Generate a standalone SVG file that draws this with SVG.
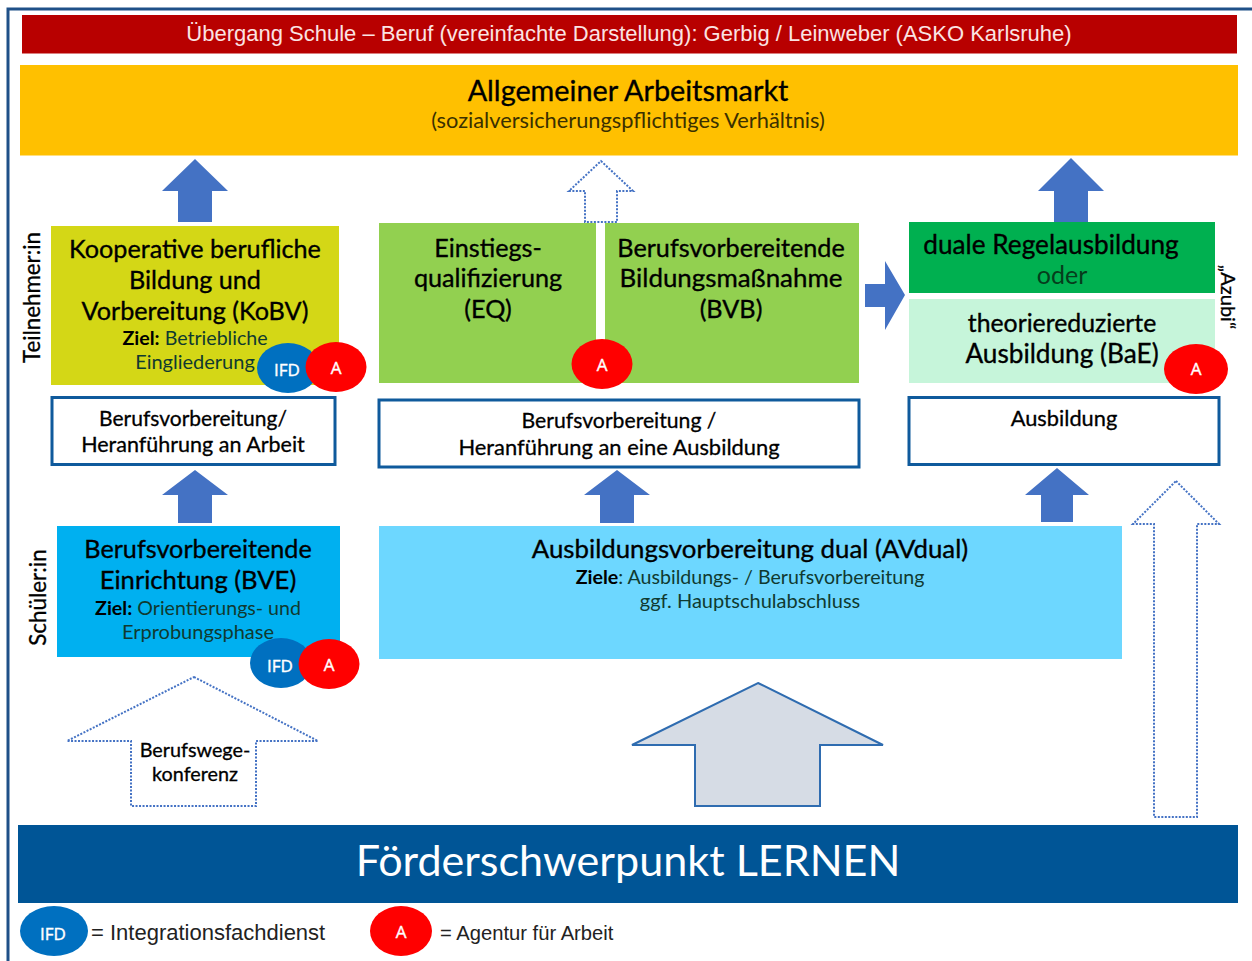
<svg xmlns="http://www.w3.org/2000/svg" width="1252" height="961" viewBox="0 0 1252 961">
<style>
text{font-family:Lato,"Liberation Sans",sans-serif;text-anchor:middle;fill:#000}
.h{font-size:25.200px;stroke:#000;stroke-width:.35px}
.m{font-size:21.500px;stroke:#000;stroke-width:.3px}
.s{font-size:19.600px;fill:#103a30}
.b{font-weight:700}
.ar{font-family:"Liberation Sans",sans-serif}
.solid{fill:#4472c4}
.dot{fill:#fff;stroke:#4472c4;stroke-width:2;stroke-dasharray:2 1.5}
.box{fill:#fff;stroke:#0f5a9c;stroke-width:3}
.ifd{fill:#0070c0}.a{fill:#f00}
.ct{fill:#fff;font-family:"Open Sans",sans-serif;font-size:17px;stroke:#fff;stroke-width:.4px}
</style>
<rect width="1252" height="961" fill="#fff"/>
<path d="M1252 9H8V961" fill="none" stroke="#1f5088" stroke-width="3"/>
<g id="title"><rect x="22" y="15" width="1215" height="38.500" fill="#b80000"/><text x="629" y="41" class="ar" style="font-size:22px;fill:#fbe3e3">Übergang Schule – Beruf (vereinfachte Darstellung): Gerbig / Leinweber (ASKO Karlsruhe)</text></g>
<g id="arbeitsmarkt"><rect x="20" y="65" width="1218" height="90.500" fill="#ffc000"/><text x="628" y="100.500" class="h" style="font-size:28.800px">Allgemeiner Arbeitsmarkt</text><text x="628" y="128" style="font-size:21.800px;fill:#3a3000">(sozialversicherungspflichtiges Verhältnis)</text></g>
<g id="connectors">
<path class="solid" d="M195 159L228 191H212V222H178V191H162Z"/>
<path class="dot" d="M601 161L633 191H617V222H585V191H569Z"/>
<path class="solid" d="M1071 158L1104 191H1088V222H1054V191H1038Z"/>
<path class="solid" d="M865 284H885V261L905 295L885 330V307H865Z"/>
<path class="solid" d="M195 470L228 495H212V523H178V495H162Z"/>
<path class="solid" d="M617 470L650 495H634V523H600V495H584Z"/>
<path class="solid" d="M1057 468L1089 495H1073V522H1041V495H1025Z"/>
<path class="dot" d="M194 677L318 741H256V806H131V741H67Z"/>
<path d="M758 683L883 745H820V806H695V745H632Z" fill="#d6dce5" stroke="#2f6cb0" stroke-width="2"/>
<path class="dot" d="M1176 481L1219 524H1197V817H1154V524H1133Z"/>
</g>
<g id="kobv"><rect x="51" y="226" width="288" height="159" fill="#d4d716"/>
<text x="195" y="257.500" class="h">Kooperative berufliche</text><text x="195" y="288.500" class="h">Bildung und</text><text x="195" y="319.500" class="h">Vorbereitung (KoBV)</text>
<text x="195" y="345" class="s"><tspan class="b" style="fill:#000">Ziel:</tspan> Betriebliche</text><text x="195" y="369" class="s" style="font-size:20px">Eingliederung</text></g>
<g id="eq"><rect x="379" y="223" width="217" height="160" fill="#92d050"/><text x="488" y="256.500" class="h">Einstiegs-</text><text x="488" y="287" class="h">qualifizierung</text><text x="488" y="318" class="h">(EQ)</text></g>
<g id="bvb"><rect x="605" y="223" width="254" height="160" fill="#92d050"/><text x="731" y="256.500" class="h">Berufsvorbereitende</text><text x="731" y="287" class="h" style="font-size:25.900px">Bildungsmaßnahme</text><text x="731" y="318" class="h">(BVB)</text></g>
<g id="duale"><rect x="909" y="222" width="306" height="71" fill="#00b050"/><text x="1051" y="254" class="h" style="font-size:26.200px">duale Regelausbildung</text><text x="1062" y="284" style="font-size:25px;fill:#063d1c">oder</text></g>
<g id="bae"><rect x="909" y="299" width="306" height="84" fill="#c6f5da"/><text x="1062" y="331.500" class="h" style="font-size:24.800px">theoriereduzierte</text><text x="1062" y="362.500" class="h" style="font-size:26.200px">Ausbildung (BaE)</text></g>
<g id="box1"><rect class="box" x="52" y="397.500" width="283" height="67"/><text x="193" y="426" class="m" style="font-size:21px">Berufsvorbereitung/</text><text x="193" y="452" class="m">Heranführung an Arbeit</text></g>
<g id="box2"><rect class="box" x="379" y="400" width="480" height="67"/><text x="619" y="428" class="m" style="font-size:21.200px">Berufsvorbereitung /</text><text x="619" y="455" class="m" style="font-size:21.900px">Heranführung an eine Ausbildung</text></g>
<g id="box3"><rect class="box" x="909" y="397.500" width="310" height="67"/><text x="1064" y="426" class="m" style="font-size:21.800px">Ausbildung</text></g>
<g id="bve"><rect x="57" y="526" width="283" height="131" fill="#00b0f0"/><text x="198" y="558" class="h">Berufsvorbereitende</text><text x="198" y="589" class="h" style="font-size:25.600px">Einrichtung (BVE)</text><text x="198" y="615" class="s"><tspan class="b" style="fill:#000">Ziel:</tspan> Orientierungs- und</text><text x="198" y="639" class="s" style="font-size:20px">Erprobungsphase</text></g>
<g id="avdual"><rect x="379" y="526" width="743" height="133" fill="#6dd7ff"/><text x="750" y="558" class="h" style="font-size:25.800px">Ausbildungsvorbereitung dual (AVdual)</text><text x="750" y="584" class="s"><tspan class="b" style="fill:#000">Ziele</tspan>: Ausbildungs- / Berufsvorbereitung</text><text x="750" y="608" class="s" style="font-size:20px">ggf. Hauptschulabschluss</text></g>
<g id="lernen"><rect x="18" y="825" width="1220" height="78" fill="#005596"/><text x="628" y="876" style="font-size:43.100px;fill:#fff">Förderschwerpunkt LERNEN</text></g>
<g id="label-teilnehmer"><text transform="translate(40 297.500) rotate(-90)" style="font-size:22.300px;stroke:#000;stroke-width:.3px">Teilnehmer:in</text></g>
<g id="label-schueler"><text transform="translate(45.500 597.500) rotate(-90)" style="font-size:22.400px;stroke:#000;stroke-width:.3px">Schüler:in</text></g>
<g id="label-azubi"><text transform="translate(1221 297) rotate(90)" style="font-size:20px;stroke:#000;stroke-width:.3px">„Azubi“</text></g>
<g id="berufswege"><text x="195" y="756.500" class="m" style="font-size:19.800px">Berufswege-</text><text x="195" y="780.500" class="m" style="font-size:19.800px">konferenz</text></g>
<g id="badge-kobv"><ellipse class="ifd" cx="288" cy="368" rx="31" ry="25"/><text class="ct" x="287" y="376">IFD</text><ellipse class="a" cx="336" cy="367" rx="30.500" ry="25"/><text class="ct" x="336" y="374">A</text></g>
<g id="badge-eq"><ellipse class="a" cx="602" cy="364" rx="30.500" ry="25"/><text class="ct" x="602" y="371">A</text></g>
<g id="badge-bae"><ellipse class="a" cx="1196" cy="369" rx="32" ry="25"/><text class="ct" x="1196" y="375">A</text></g>
<g id="badge-bve"><ellipse class="ifd" cx="281" cy="663" rx="31" ry="25"/><text class="ct" x="280" y="672">IFD</text><ellipse class="a" cx="329" cy="664" rx="30.500" ry="25"/><text class="ct" x="329" y="671">A</text></g>
<g id="legend-ifd"><ellipse class="ifd" cx="54" cy="931" rx="34" ry="25"/><text class="ct" x="53" y="940">IFD</text><text x="91" y="940" class="ar" style="text-anchor:start;font-size:22px;fill:#222">= Integrationsfachdienst</text></g>
<g id="legend-a"><ellipse class="a" cx="401" cy="931" rx="31" ry="25"/><text class="ct" x="401" y="938">A</text><text x="440" y="940" class="ar" style="text-anchor:start;font-size:20.200px;fill:#222">= Agentur für Arbeit</text></g>
</svg>
